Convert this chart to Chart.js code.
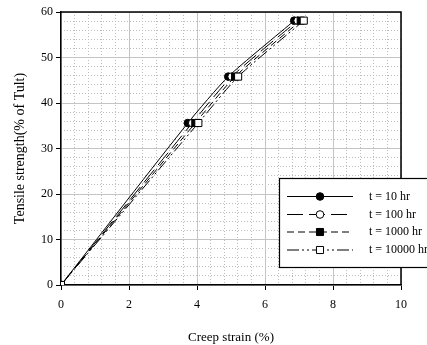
<!DOCTYPE html>
<html><head><meta charset="utf-8">
<script src="https://cdn.jsdelivr.net/npm/chart.js@4.4.1/dist/chart.umd.min.js"></script>
<style>html,body{margin:0;padding:0;background:#fff}#wrap{width:427px;height:345px}</style>
</head><body><div id="wrap"><canvas id="c" width="427" height="345"></canvas></div>
<script>
const seriesNames = ["t = 10 hr", "t = 100 hr", "t = 1000 hr", "t = 10000 hr"];
const strengthLevels = [0, 35.6, 45.8, 58.1];
const strain10 = [0, 3.73, 4.92, 6.86];
const strain100 = [0, 3.86, 5.02, 6.96];
const strain1000 = [0, 3.95, 5.12, 7.05];
const strain10000 = [0, 4.04, 5.21, 7.14];
const xTicks = [0, 2, 4, 6, 8, 10];
const yTicks = [0, 10, 20, 30, 40, 50, 60];

const FONT = "'Liberation Serif', 'Times New Roman', serif";
const toPts = xs => xs.map((x, i) => ({x: x, y: strengthLevels[i]}));
const styles = [
  {dash: [], pointStyle: 'circle', fill: '#000', r: 3.8},
  {dash: [16, 6], pointStyle: 'circle', fill: '#fff', r: 3.8},
  {dash: [7, 4], pointStyle: 'rect', fill: '#000', r: 5},
  {dash: [12, 3, 2, 3, 2, 3], pointStyle: 'rect', fill: '#fff', r: 5}
];
const allStrains = [strain10, strain100, strain1000, strain10000];
const datasets = allStrains.map((s, i) => ({
  label: seriesNames[i],
  data: toPts(s),
  order: 3 - i,
  borderColor: '#000',
  borderWidth: 1,
  borderDash: styles[i].dash,
  pointStyle: styles[i].pointStyle,
  pointRadius: styles[i].r,
  pointBackgroundColor: styles[i].fill,
  pointBorderColor: '#000',
  pointBorderWidth: 1,
  tension: 0.2,
  fill: false
}));

const frame = {
  id: 'frame',
  afterDatasetsDraw(chart) {
    const {ctx, chartArea: a} = chart;
    ctx.save();
    ctx.strokeStyle = '#000';
    ctx.lineWidth = 1.5;
    ctx.beginPath();
    ctx.moveTo(a.left, a.top); ctx.lineTo(a.right, a.top); ctx.lineTo(a.right, a.bottom);
    ctx.stroke();
    ctx.restore();
  },
  afterDraw(chart) {
    const ctx = chart.ctx;
    const bx = 279, by = 178, bw = 170, bh = 89;
    ctx.save();
    ctx.fillStyle = '#fff';
    ctx.fillRect(bx, by, bw, bh);
    ctx.strokeStyle = '#000';
    ctx.lineWidth = 1.2;
    ctx.strokeRect(bx + 0.5, by + 0.5, bw, bh);
    const rows = [196, 214, 231.5, 249.5];
    chart.data.datasets.forEach((ds, i) => {
      const y = rows[i] + 0.5;
      ctx.setLineDash(ds.borderDash);
      ctx.lineWidth = 1;
      ctx.strokeStyle = '#000';
      ctx.beginPath(); ctx.moveTo(287, y); ctx.lineTo(353, y); ctx.stroke();
      ctx.setLineDash([]);
      ctx.fillStyle = ds.pointBackgroundColor;
      Chart.helpers.drawPoint(ctx, {pointStyle: ds.pointStyle, radius: ds.pointRadius, borderWidth: 1}, 320, y);
      ctx.fillStyle = '#000';
      ctx.font = '12px ' + FONT;
      ctx.textBaseline = 'middle';
      ctx.textAlign = 'left';
      ctx.fillText(ds.label, 369, y);
    });
    ctx.restore();
  }
};

new Chart(document.getElementById('c'), {
  type: 'line',
  data: {datasets: datasets},
  plugins: [frame],
  options: {
    responsive: false,
    animation: false,
    events: [],
    layout: {padding: {left: 0, top: 12, right: 26, bottom: 0}},
    plugins: {legend: {display: false}, tooltip: {enabled: false}},
    scales: {
      xMinor: {
        type: 'linear', position: 'bottom', min: 0, max: 10,
        ticks: {display: false, stepSize: 0.4},
        grid: {color: '#bcbcbc', lineWidth: 1, drawTicks: false},
        border: {display: false, dash: [1, 2]},
        afterFit(s) { s.height = 0; }
      },
      yMinor: {
        type: 'linear', position: 'left', min: 0, max: 60,
        ticks: {display: false, stepSize: 2},
        grid: {color: '#bcbcbc', lineWidth: 1, drawTicks: false},
        border: {display: false, dash: [1, 2]},
        afterFit(s) { s.width = 0; }
      },
      x: {
        type: 'linear', position: 'bottom', min: 0, max: 10,
        afterBuildTicks(s) { s.ticks = xTicks.map(v => ({value: v})); },
        ticks: {color: '#000', font: {family: FONT, size: 12}, padding: 8, maxRotation: 0},
        grid: {color: '#c4c4c4', lineWidth: 1, drawTicks: true, tickLength: 5, tickColor: '#000'},
        border: {display: true, color: '#000', width: 1.5},
        title: {display: true, text: 'Creep strain (%)', color: '#000', font: {family: FONT, size: 13}, padding: {top: 0, bottom: 0}},
        afterFit(s) { s.height = 60; }
      },
      y: {
        type: 'linear', position: 'left', min: 0, max: 60,
        afterBuildTicks(s) { s.ticks = yTicks.map(v => ({value: v})); },
        ticks: {color: '#000', font: {family: FONT, size: 12}, padding: 3},
        grid: {color: '#c4c4c4', lineWidth: 1, drawTicks: true, tickLength: 5, tickColor: '#000'},
        border: {display: true, color: '#000', width: 1.5},
        title: {display: true, text: 'Tensile strength(% of Tult)', color: '#000', font: {family: FONT, size: 14}, padding: {top: 12, bottom: 0}},
        afterFit(s) { s.width = 61; }
      }
    }
  }
});
</script></body></html>
